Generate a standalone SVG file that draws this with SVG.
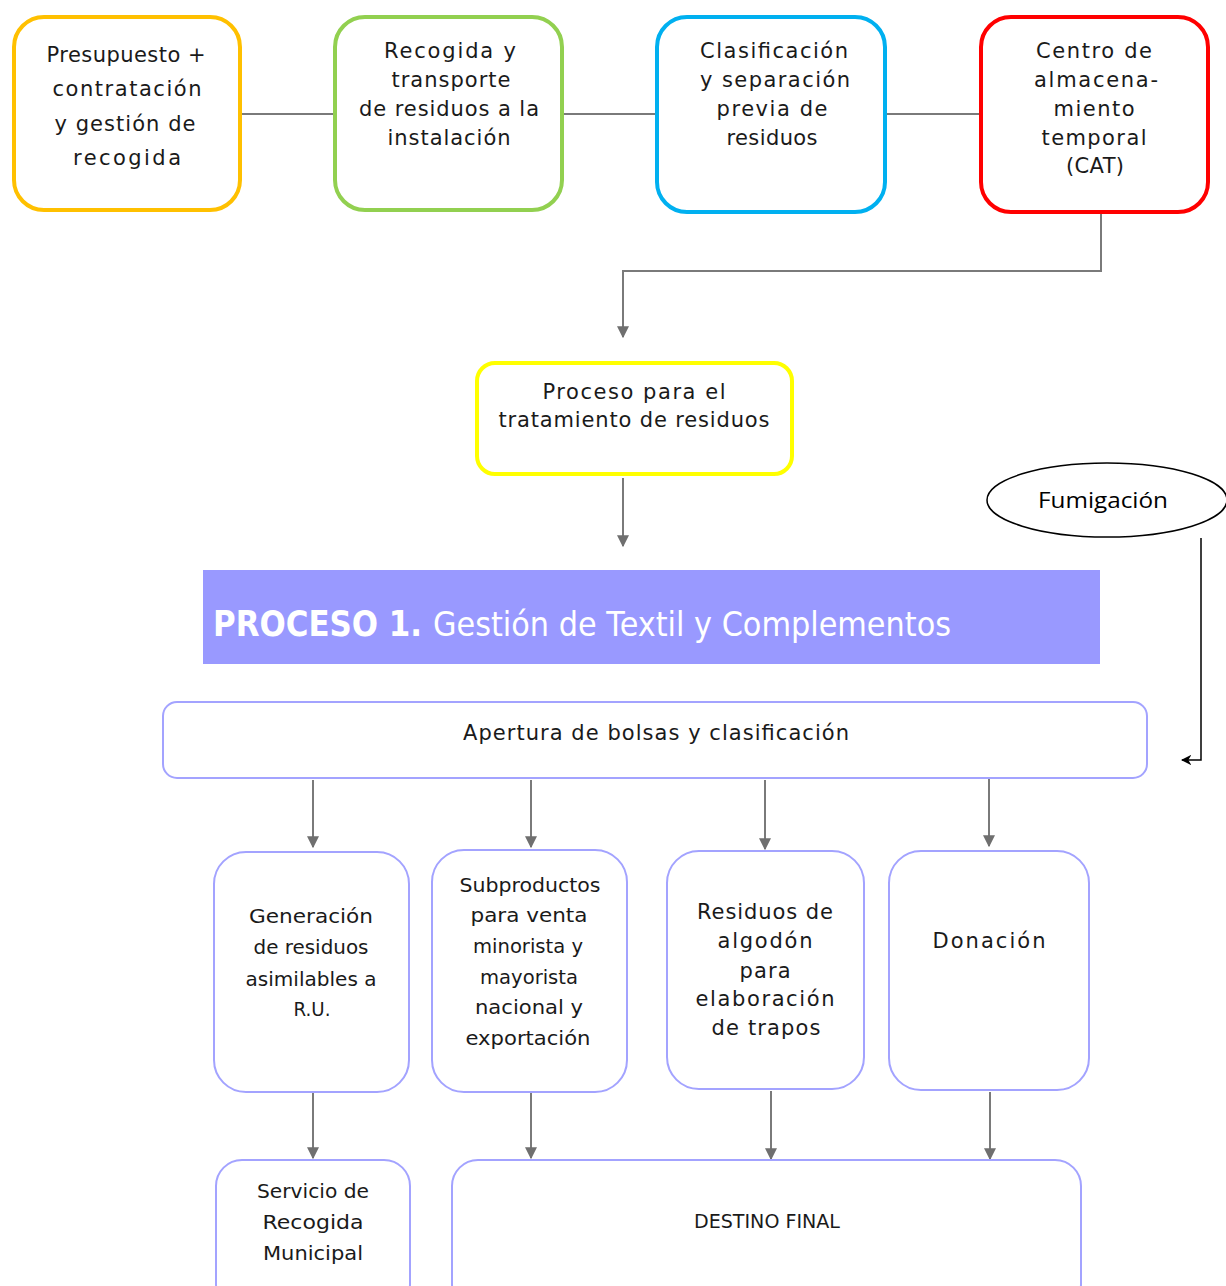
<svg xmlns="http://www.w3.org/2000/svg" width="1226" height="1286" viewBox="0 0 1226 1286">
<defs>
<marker id="ag" viewBox="0 0 10 10" refX="9" refY="5" markerWidth="6" markerHeight="6" markerUnits="strokeWidth" orient="auto"><path d="M0,0 L10,5 L0,10 z" fill="#6f6f6f"/></marker>
<marker id="ab" viewBox="0 0 10 10" refX="9" refY="5" markerWidth="7" markerHeight="7" markerUnits="strokeWidth" orient="auto"><path d="M0,0 L10,5 L0,10 L3,5 z" fill="#000"/></marker>
<style>
.t{font-family:"DejaVu Sans","Liberation Sans",sans-serif;font-size:21px;fill:#1a1a1a;text-anchor:middle}
.m{font-family:"DejaVu Sans","Liberation Sans",sans-serif;font-size:20px;fill:#1a1a1a;text-anchor:middle}
.top{fill:#fff;stroke-width:4}
.pb{fill:#fff;stroke:#a3a3ff;stroke-width:2}
.c{fill:none;stroke:#7a7a7a;stroke-width:2}
</style>
</defs>
<rect width="1226" height="1286" fill="#fff"/>
<g id="connectors">
<line class="c" x1="240" y1="114" x2="335" y2="114"/>
<line class="c" x1="562" y1="114" x2="657" y2="114"/>
<line class="c" x1="885" y1="114" x2="981" y2="114"/>
<polyline class="c" points="1101,213 1101,271 623,271 623,337" marker-end="url(#ag)"/>
<line class="c" x1="623" y1="478" x2="623" y2="546" marker-end="url(#ag)"/>
<line class="c" x1="313" y1="780" x2="313" y2="847" marker-end="url(#ag)"/>
<line class="c" x1="531" y1="780" x2="531" y2="847" marker-end="url(#ag)"/>
<line class="c" x1="765" y1="780" x2="765" y2="849" marker-end="url(#ag)"/>
<line class="c" x1="989" y1="778" x2="989" y2="846" marker-end="url(#ag)"/>
<line class="c" x1="313" y1="1092" x2="313" y2="1158" marker-end="url(#ag)"/>
<line class="c" x1="531" y1="1092" x2="531" y2="1158" marker-end="url(#ag)"/>
<line class="c" x1="771" y1="1091" x2="771" y2="1159" marker-end="url(#ag)"/>
<line class="c" x1="990" y1="1092" x2="990" y2="1159" marker-end="url(#ag)"/>
<polyline points="1201,538 1201,760 1182,760" fill="none" stroke="#000" stroke-width="1.5" marker-end="url(#ab)"/>
</g>
<g id="n1">
<rect class="top" x="14" y="17" width="226" height="193" rx="30" stroke="#ffc000"/>
<text class="t" x="126" y="62" textLength="159">Presupuesto +</text>
<text class="t" x="127" y="96" textLength="149">contratación</text>
<text class="t" x="125" y="131" textLength="141">y gestión de</text>
<text class="t" x="127" y="165" textLength="108">recogida</text>
</g>
<g id="n2">
<rect class="top" x="335" y="17" width="227" height="193" rx="30" stroke="#92d050"/>
<text class="t" x="450" y="58" textLength="132">Recogida y</text>
<text class="t" x="451" y="87" textLength="119">transporte</text>
<text class="t" x="449" y="116" textLength="180">de residuos a la</text>
<text class="t" x="449" y="145" textLength="123">instalación</text>
</g>
<g id="n3">
<rect class="top" x="657" y="17" width="228" height="195" rx="30" stroke="#00b0f0"/>
<text class="t" x="774" y="58" textLength="148">Clasificación</text>
<text class="t" x="775" y="87" textLength="150">y separación</text>
<text class="t" x="772" y="116" textLength="111">previa de</text>
<text class="t" x="772" y="145" textLength="91">residuos</text>
</g>
<g id="n4">
<rect class="top" x="981" y="17" width="227" height="195" rx="30" stroke="#ff0000"/>
<text class="t" x="1094" y="58" textLength="116">Centro de</text>
<text class="t" x="1096" y="87" textLength="124">almacena-</text>
<text class="t" x="1094" y="116" textLength="81">miento</text>
<text class="t" x="1094" y="145" textLength="105">temporal</text>
<text class="t" x="1095" y="173" textLength="58">(CAT)</text>
</g>
<g id="n5">
<rect class="top" x="477" y="363" width="315" height="111" rx="18" stroke="#ffff00"/>
<text class="t" x="634" y="399" textLength="183">Proceso para el</text>
<text class="t" x="634" y="427" textLength="271">tratamiento de residuos</text>
</g>
<g id="banner">
<rect x="203" y="570" width="897" height="94" fill="#9999ff"/>
<text x="213" y="636" font-family="DejaVu Sans,Liberation Sans,sans-serif" font-size="36" font-weight="bold" fill="#fff" textLength="209" lengthAdjust="spacingAndGlyphs">PROCESO 1.</text>
<text x="433" y="636" font-family="DejaVu Sans,Liberation Sans,sans-serif" font-size="34" fill="#fff" textLength="518" lengthAdjust="spacingAndGlyphs">Gestión de Textil y Complementos</text>
</g>
<g id="fumigacion">
<ellipse cx="1107" cy="500" rx="120" ry="37" fill="#fff" stroke="#000" stroke-width="1.5"/>
<text x="1103" y="508" font-family="Open Sans,Liberation Sans,sans-serif" font-size="22" fill="#000" text-anchor="middle" textLength="130" lengthAdjust="spacingAndGlyphs">Fumigación</text>
</g>
<g id="apertura">
<rect class="pb" x="163" y="702" width="984" height="76" rx="14"/>
<text class="t" x="656" y="740" textLength="386">Apertura de bolsas y clasificación</text>
</g>
<g id="m1">
<rect class="pb" x="214" y="852" width="195" height="240" rx="32"/>
<text class="m" x="311" y="923" textLength="124" lengthAdjust="spacingAndGlyphs">Generación</text>
<text class="m" x="311" y="954" textLength="115" lengthAdjust="spacingAndGlyphs">de residuos</text>
<text class="m" x="311" y="986" textLength="131" lengthAdjust="spacingAndGlyphs">asimilables a</text>
<text class="m" x="312" y="1016" textLength="37" lengthAdjust="spacingAndGlyphs">R.U.</text>
</g>
<g id="m2">
<rect class="pb" x="432" y="850" width="195" height="242" rx="32"/>
<text class="m" x="530" y="892" textLength="141" lengthAdjust="spacingAndGlyphs">Subproductos</text>
<text class="m" x="529" y="922" textLength="117" lengthAdjust="spacingAndGlyphs">para venta</text>
<text class="m" x="528" y="953" textLength="110" lengthAdjust="spacingAndGlyphs">minorista y</text>
<text class="m" x="529" y="984" textLength="98" lengthAdjust="spacingAndGlyphs">mayorista</text>
<text class="m" x="529" y="1014" textLength="108" lengthAdjust="spacingAndGlyphs">nacional y</text>
<text class="m" x="528" y="1045" textLength="125" lengthAdjust="spacingAndGlyphs">exportación</text>
</g>
<g id="m3">
<rect class="pb" x="667" y="851" width="197" height="238" rx="32"/>
<text class="t" x="765" y="919" textLength="136">Residuos de</text>
<text class="t" x="765" y="948" textLength="95">algodón</text>
<text class="t" x="765" y="978" textLength="51">para</text>
<text class="t" x="765" y="1006" textLength="139">elaboración</text>
<text class="t" x="766" y="1035" textLength="109">de trapos</text>
</g>
<g id="m4">
<rect class="pb" x="889" y="851" width="200" height="239" rx="32"/>
<text class="t" x="989" y="948" textLength="113">Donación</text>
</g>
<g id="b1">
<rect class="pb" x="216" y="1160" width="194" height="150" rx="26"/>
<text class="m" x="313" y="1198" textLength="112" lengthAdjust="spacingAndGlyphs">Servicio de</text>
<text class="m" x="313" y="1229" textLength="101" lengthAdjust="spacingAndGlyphs">Recogida</text>
<text class="m" x="313" y="1260" textLength="100" lengthAdjust="spacingAndGlyphs">Municipal</text>
</g>
<g id="b2">
<rect class="pb" x="452" y="1160" width="629" height="150" rx="26"/>
<text class="m" x="767" y="1228" textLength="146" lengthAdjust="spacingAndGlyphs">DESTINO FINAL</text>
</g>
</svg>
